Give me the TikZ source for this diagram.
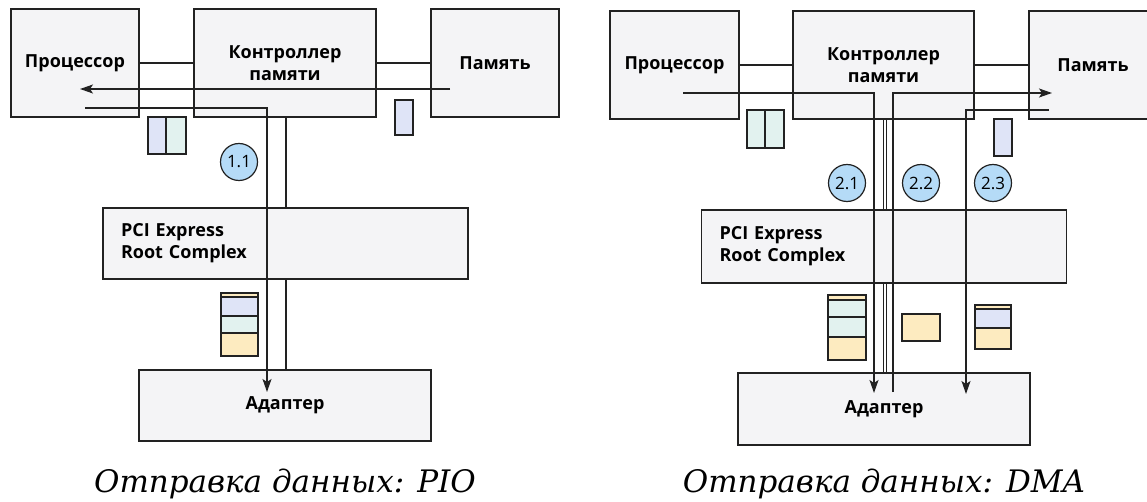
\documentclass[tikz,border=0pt]{standalone}
\usepackage{fontspec}
\setmainfont{Open Sans}
\newfontfamily\captionfont{DejaVu Serif}
\usepackage{xcolor}
\usetikzlibrary{arrows.meta}

\definecolor{boxfill}{HTML}{F4F4F6}
\definecolor{ink}{HTML}{222222}
\definecolor{pblue}{HTML}{DFE4F7}
\definecolor{pgreen}{HTML}{E2F2EF}
\definecolor{porange}{HTML}{FDEBC0}
\definecolor{stepblue}{HTML}{B5DBF7}

\begin{document}
\begin{tikzpicture}[x=1pt, y=-1pt,
  box/.style={rectangle, draw=ink, line width=1.6pt, fill=boxfill, font=\bfseries\fontsize{18}{22}\selectfont, align=center, inner sep=0pt},
  wire/.style={draw=ink, line width=1.4pt},
  flow/.style={wire, -{Stealth[length=13pt, width=9pt, inset=3pt]}},
  pkt/.style={draw=ink, line width=1.2pt},
  stepmark/.style={circle, draw=ink, line width=1.2pt, fill=stepblue, minimum size=37pt, inner sep=0pt, font=\fontsize{17}{17}\selectfont},
  caption/.style={font=\captionfont\itshape\fontsize{31}{34}\selectfont}
]
\useasboundingbox (0,0) rectangle (1147,502);

% ---- PIO: blocks
\node[box, minimum width=128pt, minimum height=108pt] (procA) at (75,63) {Процессор};
\node[box, minimum width=182pt, minimum height=108pt] (ctrlA) at (285,63) {Контроллер\\памяти};
\node[box, minimum width=128pt, minimum height=108pt] (memA) at (495,63) {Память};
\node[box, minimum width=365pt, minimum height=71pt, text width=329pt, align=left] (pciA) at (285.5,243.5) {PCI Express\\Root Complex};
\node[box, minimum width=292pt, minimum height=71pt] (adapterA) at (285,405.5) {Адаптер};

% ---- PIO: buses
\coordinate (busA) at (286,0);
\draw[wire] (procA) -- (ctrlA);
\draw[wire] (ctrlA) -- (memA);
\draw[wire] (busA |- ctrlA.south) -- (busA |- pciA.north);
\draw[wire] (busA |- pciA.south) -- (busA |- adapterA.north);

% ---- PIO: data path
\coordinate (readA) at (450,89);
\coordinate (cpuinA) at (80,89);
\coordinate (cpuoutA) at (85,108);
\coordinate (devinA) at (267,392);
\draw[flow] (readA) -- (cpuinA);
\draw[flow] (cpuoutA) -| (devinA);

% ---- PIO: packets
\draw[pkt, fill=pblue] (148,117) rectangle (166,154);
\draw[pkt, fill=pgreen] (166,117) rectangle (186,154);
\draw[pkt, fill=pblue] (395,100) rectangle (413,135);
\draw[pkt, fill=porange] (221,293) rectangle (258,297);
\draw[pkt, fill=pblue] (221,297) rectangle (258,316);
\draw[pkt, fill=pgreen] (221,316) rectangle (258,333);
\draw[pkt, fill=porange] (221,333) rectangle (258,356);

\node[stepmark] (s11) at (239,162) {1.1};
\node[caption] (capA) at (285,484) {Отправка данных: PIO};

% ---- DMA: blocks
\node[box, minimum width=129pt, minimum height=108pt] (procB) at (674.5,65) {Процессор};
\node[box, minimum width=181pt, minimum height=108pt] (ctrlB) at (883.5,65) {Контроллер\\памяти};
\node[box, minimum width=128pt, minimum height=108pt] (memB) at (1093,65) {Память};
\node[box, minimum width=365pt, minimum height=73pt, text width=329pt, align=left] (pciB) at (884,246.5) {PCI Express\\Root Complex};
\node[box, minimum width=292pt, minimum height=72pt] (adapterB) at (884,409) {Адаптер};

% ---- DMA: buses
\coordinate (busB) at (885,0);
\draw[wire] (procB) -- (ctrlB);
\draw[wire] (ctrlB) -- (memB);
\draw[wire] ([xshift=-1.5pt]busB |- ctrlB.south) -- ([xshift=-1.5pt]busB |- pciB.north);
\draw[wire] ([xshift=1.5pt]busB |- ctrlB.south) -- ([xshift=1.5pt]busB |- pciB.north);
\draw[wire] ([xshift=-1.5pt]busB |- pciB.south) -- ([xshift=-1.5pt]busB |- adapterB.north);
\draw[wire] ([xshift=1.5pt]busB |- pciB.south) -- ([xshift=1.5pt]busB |- adapterB.north);

% ---- DMA: data paths
\coordinate (cpuoutB) at (683,93);
\coordinate (devinB) at (874,393);
\coordinate (devoutB) at (893,392);
\coordinate (meminB) at (1052,93);
\coordinate (memoutB) at (1049,110);
\coordinate (devdataB) at (966,394);
\draw[flow] (cpuoutB) -| (devinB);
\draw[flow] (devoutB) |- (meminB);
\draw[flow] (memoutB) -| (devdataB);

% ---- DMA: packets
\draw[pkt, fill=pgreen] (747,110) rectangle (765,148);
\draw[pkt, fill=pgreen] (765,110) rectangle (784,148);
\draw[pkt, fill=pblue] (994,119) rectangle (1012,156);
\draw[pkt, fill=porange] (828,295) rectangle (866,300);
\draw[pkt, fill=pgreen] (828,300) rectangle (866,317);
\draw[pkt, fill=pgreen] (828,317) rectangle (866,337);
\draw[pkt, fill=porange] (828,337) rectangle (866,360);
\draw[pkt, fill=porange] (902,314) rectangle (940,341);
\draw[pkt, fill=porange] (975,305) rectangle (1011,309);
\draw[pkt, fill=pblue] (975,309) rectangle (1011,328);
\draw[pkt, fill=porange] (975,328) rectangle (1011,349);

\node[stepmark] (s21) at (847,183) {2.1};
\node[stepmark] (s22) at (921,183) {2.2};
\node[stepmark] (s23) at (993,183) {2.3};
\node[caption] (capB) at (884,484) {Отправка данных: DMA};

\end{tikzpicture}
\end{document}
